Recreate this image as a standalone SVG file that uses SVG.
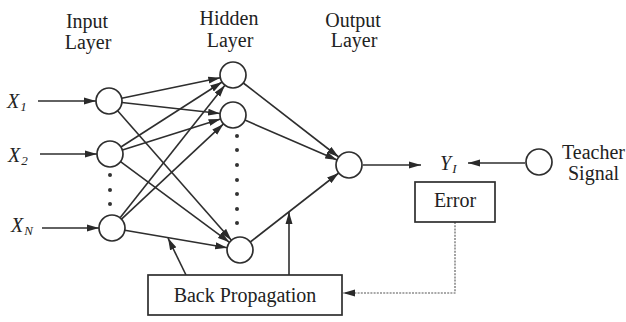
<svg xmlns="http://www.w3.org/2000/svg" width="626" height="322" viewBox="0 0 626 322">
<style>
.t{font-family:"Liberation Serif","Times New Roman",serif;font-size:20px;fill:#222}
.i{font-style:italic}
.n{fill:#fff;stroke:#2e2e2e;stroke-width:1.7}
.c{stroke:#2e2e2e;stroke-width:1.6;fill:none}
.d{stroke:#555;stroke-width:1.1;fill:none;stroke-dasharray:2 1.2}
.b{fill:#fff;stroke:#2e2e2e;stroke-width:1.7}
.dot{fill:#333}
</style>
<defs>
<marker id="ah" markerUnits="userSpaceOnUse" markerWidth="12" markerHeight="8" refX="12" refY="4" orient="auto">
<path d="M0,0.5 L12,4 L0,7.5 z" fill="#2a2a2a"/>
</marker>
</defs>
<rect width="626" height="322" fill="#fff"/>

<g id="labels">
<text class="t" x="87" y="28" text-anchor="middle">Input</text>
<text class="t" x="88" y="49" text-anchor="middle">Layer</text>
<text class="t" x="229" y="25" text-anchor="middle">Hidden</text>
<text class="t" x="230" y="47" text-anchor="middle">Layer</text>
<text class="t" x="353" y="27" text-anchor="middle">Output</text>
<text class="t" x="354" y="47" text-anchor="middle">Layer</text>
<text class="t i" x="7" y="108">X<tspan font-size="13" dx="1" dy="3">1</tspan></text>
<text class="t i" x="8" y="162">X<tspan font-size="13" dx="1" dy="3">2</tspan></text>
<text class="t i" x="11" y="232">X<tspan font-size="13" dx="1" dy="3">N</tspan></text>
<text class="t i" x="440" y="170">Y<tspan font-size="13" dx="1" dy="3">I</tspan></text>
</g>

<g id="connectors">
<line class="c" x1="38" y1="101" x2="96" y2="101" marker-end="url(#ah)"/>
<line class="c" x1="40" y1="154" x2="97" y2="154" marker-end="url(#ah)"/>
<line class="c" x1="42" y1="228" x2="99" y2="228" marker-end="url(#ah)"/>

<line class="c" x1="121.7" y1="98.3" x2="220.3" y2="77.7" marker-end="url(#ah)"/>
<line class="c" x1="121.9" y1="102.5" x2="220.1" y2="113.5" marker-end="url(#ah)"/>
<line class="c" x1="117.6" y1="110.8" x2="231.4" y2="240.2" marker-end="url(#ah)"/>
<line class="c" x1="120.9" y1="147.0" x2="222.1" y2="82.0" marker-end="url(#ah)"/>
<line class="c" x1="122.4" y1="150.1" x2="220.6" y2="118.9" marker-end="url(#ah)"/>
<line class="c" x1="120.5" y1="161.7" x2="229.5" y2="242.3" marker-end="url(#ah)"/>
<line class="c" x1="120.1" y1="217.8" x2="224.9" y2="85.2" marker-end="url(#ah)"/>
<line class="c" x1="121.5" y1="219.1" x2="223.5" y2="123.9" marker-end="url(#ah)"/>
<line class="c" x1="124.8" y1="230.2" x2="227.2" y2="247.8" marker-end="url(#ah)"/>

<line class="c" x1="243.3" y1="83.0" x2="338.7" y2="157.0" marker-end="url(#ah)"/>
<line class="c" x1="244.9" y1="120.1" x2="337.1" y2="159.9" marker-end="url(#ah)"/>
<line class="c" x1="250.3" y1="242.0" x2="338.7" y2="173.0" marker-end="url(#ah)"/>

<line class="c" x1="363" y1="165" x2="421" y2="165" marker-end="url(#ah)"/>
<line class="c" x1="525" y1="163" x2="468" y2="163" marker-end="url(#ah)"/>

<line class="c" x1="186" y1="275" x2="168" y2="238" stroke-width="1.1" marker-end="url(#ah)"/>
<line class="c" x1="289" y1="275" x2="289" y2="212" stroke-width="1.1" marker-end="url(#ah)"/>

<path class="d" d="M455,222 L455,293 L343,293" marker-end="url(#ah)"/>
</g>

<g id="input-1"><circle class="n" cx="109" cy="101" r="13"/></g>
<g id="input-2"><circle class="n" cx="110" cy="154" r="13"/></g>
<g id="input-dots">
<circle class="dot" cx="110" cy="175" r="2"/>
<circle class="dot" cx="110" cy="190" r="2"/>
<circle class="dot" cx="110" cy="204" r="2"/>
</g>
<g id="input-n"><circle class="n" cx="112" cy="228" r="13"/></g>

<g id="hidden-1"><circle class="n" cx="233" cy="75" r="13"/></g>
<g id="hidden-2"><circle class="n" cx="233" cy="115" r="13"/></g>
<g id="hidden-dots">
<circle class="dot" cx="237" cy="136" r="2"/>
<circle class="dot" cx="237" cy="150" r="2"/>
<circle class="dot" cx="237" cy="165" r="2"/>
<circle class="dot" cx="237" cy="180" r="2"/>
<circle class="dot" cx="237" cy="194" r="2"/>
<circle class="dot" cx="237" cy="209" r="2"/>
<circle class="dot" cx="237" cy="223" r="2"/>
</g>
<g id="hidden-n"><circle class="n" cx="240" cy="250" r="13"/></g>

<g id="output"><circle class="n" cx="349" cy="165" r="13"/></g>

<g id="teacher">
<circle class="n" cx="539" cy="162" r="13"/>
<text class="t" x="562" y="159" font-size="21">Teacher</text>
<text class="t" x="568" y="180" font-size="21">Signal</text>
</g>

<g id="error">
<rect class="b" x="415" y="182" width="80" height="40"/>
<text class="t" x="455" y="207" text-anchor="middle" font-size="21">Error</text>
</g>

<g id="backprop">
<rect class="b" x="148" y="275" width="194" height="40"/>
<text class="t" x="245" y="302" text-anchor="middle" font-size="21">Back Propagation</text>
</g>
</svg>
